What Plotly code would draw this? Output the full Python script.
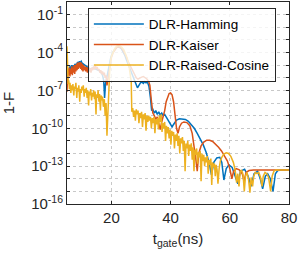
import plotly.graph_objects as go

# ---------------- data (x in ns, y given as log10(1-F)) ----------------
ham_x = [5.0,5.3,5.6,5.9,6.2,6.5,6.8,7.1,7.4,7.7,8.0,8.3,8.6,8.9,9.2,9.5,9.8,10.1,10.4,10.7,11.0,11.5,12.0,12.5,13.0,13.5,14.0,14.5,15.0,15.5,16.0,16.5,17.0,17.4,17.7,18.0,18.4,18.8,19.3,19.8,20.4,21.0,21.6,22.2,22.8,23.4,24.0,24.6,25.2,25.8,26.4,27.0,27.6,28.2,28.8,29.3,29.8,30.3,30.8,31.2,31.7,32.2,32.7,33.2,33.6,34.0,34.5,35.0,35.5,36.0,36.5,37.0,37.5,38.0,38.5,39.0,39.5,40.0,40.5,41.0,41.5,42.0,43.0,44.0,45.0,46.0,47.0,48.0,49.0,50.0,51.0,52.0,53.0,53.8,54.6,55.6,56.6,57.3,58.0,58.8,59.7,60.8,61.9,62.7,63.6,65.0,66.2,67.2,68.2,69.4,70.3,71.1,72.0,72.8,73.7,74.6,75.4,76.2,77.5,80.0]
ham_lg = [-5.9,-5.3,-5.6,-5.1,-5.4,-5.0,-5.3,-5.0,-5.2,-4.9,-5.1,-4.8,-4.75,-4.9,-4.7,-4.8,-4.7,-4.85,-4.9,-5.0,-5.05,-5.1,-5.2,-5.25,-5.3,-5.25,-5.2,-5.3,-5.35,-5.4,-5.45,-5.6,-5.8,-6.2,-7.6,-6.5,-6.0,-5.5,-4.9,-4.4,-4.0,-3.75,-3.6,-3.55,-3.6,-3.72,-3.95,-4.25,-4.65,-5.0,-5.3,-5.7,-6.1,-6.5,-6.8,-6.6,-6.4,-6.35,-6.45,-6.3,-6.4,-6.35,-6.7,-7.6,-8.6,-8.5,-8.8,-8.6,-8.9,-8.7,-8.95,-8.8,-9.0,-8.9,-9.1,-9.3,-9.6,-9.8,-9.9,-9.7,-9.5,-9.35,-9.25,-9.25,-9.3,-9.45,-9.7,-10.0,-10.4,-10.8,-11.3,-11.9,-12.7,-13.7,-12.7,-12.35,-12.3,-12.7,-14.1,-13.2,-12.9,-13.1,-13.8,-14.4,-13.4,-13.25,-13.8,-14.6,-13.6,-13.4,-14.0,-14.8,-13.8,-13.6,-14.0,-15.0,-13.6,-13.35,-13.3,-13.3]

kai_x = [5.0,5.2,5.4,5.6,5.8,6.0,6.2,6.4,6.6,6.8,7.0,7.2,7.4,7.6,7.8,8.0,8.2,8.4,8.6,8.8,9.0,9.2,9.4,9.6,9.8,10.0,10.2,10.4,10.6,10.8,11.0,11.3,11.6,11.9,12.2,12.5,12.8,13.1,13.4,13.7,14.0,14.3,14.6,14.9,15.2,15.5,15.8,16.1,16.4,16.7,17.0,17.3,17.6,17.9,18.2,18.5,18.8,19.1,19.5,20.0,20.6,21.2,21.8,22.4,23.0,23.6,24.2,24.8,25.4,26.0,26.6,27.2,27.8,28.4,29.0,29.6,30.2,30.8,31.4,32.0,32.6,33.0,33.5,34.0,34.5,35.0,35.5,36.0,36.5,37.0,37.5,38.0,38.5,39.0,39.5,40.0,40.5,41.0,41.5,42.0,42.5,43.0,43.7,44.5,45.5,46.5,47.3,47.9,48.5,49.0,49.5,50.3,51.2,52.2,53.2,54.2,55.2,56.2,57.2,58.2,59.2,60.0,60.7,61.3,62.2,63.2,64.2,64.8,65.5,66.5,68.0,72.0,76.0,80.0]
kai_lg = [-7.1,-6.0,-5.3,-5.8,-5.2,-5.9,-5.3,-5.7,-5.1,-5.8,-5.2,-5.6,-5.0,-5.7,-5.0,-5.5,-4.9,-5.4,-4.8,-5.3,-4.8,-5.2,-4.75,-5.3,-4.8,-5.4,-4.9,-5.5,-5.0,-5.4,-5.1,-5.5,-5.15,-5.6,-5.2,-5.5,-5.25,-5.6,-5.2,-5.4,-5.1,-5.35,-5.05,-5.3,-5.15,-5.4,-5.3,-5.6,-5.4,-5.7,-5.5,-5.8,-5.6,-6.0,-5.8,-6.6,-6.2,-5.6,-5.0,-4.4,-4.0,-3.75,-3.6,-3.55,-3.58,-3.7,-3.9,-4.2,-4.6,-4.9,-5.2,-5.5,-5.8,-6.0,-6.1,-6.0,-5.95,-5.9,-6.0,-6.1,-6.3,-6.6,-7.8,-8.8,-9.0,-9.3,-9.1,-9.6,-10.1,-9.5,-9.1,-8.6,-7.9,-7.5,-7.25,-7.2,-7.35,-7.9,-8.9,-10.0,-10.4,-9.9,-9.6,-9.5,-9.55,-9.8,-10.4,-11.3,-12.4,-13.4,-12.0,-11.4,-11.1,-10.95,-10.95,-11.05,-11.25,-11.5,-11.8,-12.15,-12.6,-13.2,-14.0,-13.4,-13.2,-13.3,-13.6,-14.2,-13.5,-13.35,-13.3,-13.3,-13.3,-13.3]

rc_x = [5.0,5.2,5.4,5.6,5.8,6.0,6.3,6.5,6.8,7.0,7.3,7.5,7.8,8.0,8.3,8.5,8.8,9.0,9.3,9.5,9.8,10.0,10.3,10.5,10.8,11.0,11.3,11.5,11.8,12.0,12.3,12.5,12.8,13.0,13.3,13.5,13.8,14.0,14.3,14.5,14.8,15.0,15.3,15.5,15.8,16.0,16.3,16.5,16.8,17.0,17.3,17.6,17.9,18.2,18.5,18.8,19.1,19.5,20.0,20.6,21.2,21.8,22.4,23.0,23.6,24.2,24.8,25.4,25.9,26.3,26.7,26.9,27.2,27.5,27.8,28.1,28.4,28.7,29.0,29.3,29.6,29.9,30.2,30.5,30.8,31.1,31.4,31.7,32.0,32.3,32.6,32.9,33.2,33.5,33.8,34.1,34.4,34.7,35.0,35.3,35.6,35.9,36.2,36.5,36.8,37.1,37.4,37.7,38.0,38.3,38.6,38.9,39.2,39.5,39.8,40.1,40.4,40.7,41.0,41.3,41.6,41.9,42.2,42.5,42.8,43.1,43.4,43.7,44.0,44.3,44.6,44.9,45.2,45.5,45.8,46.1,46.4,46.7,47.0,47.3,47.6,47.9,48.2,48.5,48.8,49.1,49.4,49.7,50.0,50.3,50.6,50.9,51.2,51.5,51.8,52.1,52.4,52.7,53.0,53.3,53.6,53.9,54.2,54.5,54.8,55.1,55.4,55.7,56.0,56.4,56.8,57.3,58.0,58.8,59.6,60.4,61.2,61.8,62.3,62.7,63.1,63.5,64.0,64.5,64.9,65.3,65.8,66.3,66.8,67.2,67.7,68.1,68.6,69.2,69.8,70.4,70.9,71.3,71.9,72.5,73.1,73.8,74.3,74.9,75.5,77.0,80.0]
rc_lg = [-3.5,-4.8,-6.5,-6.2,-6.9,-6.4,-7.2,-6.6,-7.0,-6.5,-7.4,-6.7,-6.9,-6.4,-7.6,-6.8,-7.1,-6.6,-7.9,-6.9,-7.2,-6.7,-7.0,-6.6,-7.5,-6.9,-7.2,-6.8,-7.6,-7.0,-8.2,-7.1,-7.4,-6.9,-7.8,-7.2,-7.5,-7.0,-7.7,-7.1,-8.9,-7.3,-7.6,-7.0,-7.9,-7.3,-8.6,-7.4,-7.8,-7.5,-8.3,-7.7,-9.0,-8.0,-10.6,-8.5,-6.5,-5.0,-4.3,-3.9,-3.65,-3.5,-3.45,-3.5,-3.6,-3.8,-4.1,-4.5,-5.0,-5.6,-6.3,-8.7,-8.4,-9.1,-8.6,-9.4,-8.5,-8.9,-8.6,-9.6,-8.8,-9.2,-8.7,-9.9,-8.9,-9.3,-8.8,-10.2,-9.0,-9.5,-9.0,-9.4,-9.1,-10.0,-9.2,-9.6,-9.1,-10.4,-9.3,-9.7,-9.2,-10.1,-9.0,-9.5,-8.9,-10.3,-9.6,-10.0,-9.5,-11.0,-9.8,-10.4,-9.9,-10.8,-10.1,-11.3,-10.2,-10.6,-10.3,-11.6,-10.5,-11.0,-10.4,-11.4,-10.6,-12.0,-10.8,-11.2,-10.7,-11.8,-11.0,-13.4,-11.2,-11.6,-11.0,-12.2,-11.3,-11.8,-11.2,-12.5,-11.5,-13.4,-11.7,-12.1,-11.6,-12.8,-11.9,-12.3,-11.8,-14.2,-12.0,-12.6,-12.1,-13.0,-12.3,-12.7,-12.2,-13.6,-12.5,-12.9,-12.4,-14.5,-12.7,-13.1,-12.8,-13.8,-12.9,-13.3,-14.4,-13.2,-12.6,-12.3,-12.05,-11.95,-12.0,-12.25,-12.7,-13.3,-14.3,-13.6,-14.6,-13.5,-13.3,-13.7,-15.0,-13.8,-13.5,-14.0,-15.1,-13.9,-14.6,-13.8,-13.5,-13.6,-13.5,-13.9,-14.6,-13.8,-13.5,-13.6,-13.9,-15.0,-13.8,-13.4,-13.3,-13.3,-13.3]

series_names = ["DLR-Hamming", "DLR-Kaiser", "DLR-Raised-Cosine"]
series_colors = ["#0072BD", "#D95319", "#EDB120"]

y_tick_exp = list(range(-16, 0))
y_label_exp = [-16, -13, -10, -7, -4, -1]
x_ticks = [20, 40, 60, 80]

FONT = "Liberation Sans, Arial, sans-serif"
AX = "#262626"

fig = go.Figure()
for name, col, xs, lg in zip(series_names, series_colors,
                             [ham_x, kai_x, rc_x], [ham_lg, kai_lg, rc_lg]):
    fig.add_trace(go.Scatter(x=xs, y=[10 ** v for v in lg], mode="lines", name=name,
                             line=dict(color=col, width=1.5)))

fig.update_layout(
    width=299, height=259,
    margin=dict(l=65, r=10, t=1, b=55),
    paper_bgcolor="white", plot_bgcolor="white",
    font=dict(family=FONT, size=15, color=AX),
    showlegend=True,
    legend=dict(x=0.094, y=0.972, xanchor="left", yanchor="top",
                bgcolor="rgba(255,255,255,0.8)", bordercolor=AX, borderwidth=1,
                font=dict(size=13.5, color="black"), tracegroupgap=0, itemwidth=50),
)
fig.update_xaxes(range=[5, 80], tickvals=x_ticks, ticks="inside", ticklen=3,
                 tickcolor=AX, showline=True, linecolor=AX, linewidth=1, mirror="allticks",
                 showgrid=True, gridcolor="#c8c8c8", griddash="dot", gridwidth=1,
                 zeroline=False, tickfont=dict(size=15),
                 title=dict(text="t<sub>gate</sub>(ns)", font=dict(size=15), standoff=8))
fig.update_yaxes(type="log", range=[-16, 0],
                 tickvals=[10.0 ** e for e in y_tick_exp],
                 ticktext=[("10<sup>%d</sup>" % e) if e in y_label_exp else "" for e in y_tick_exp],
                 ticks="inside", ticklen=3, tickcolor=AX, showline=True, linecolor=AX,
                 linewidth=1, mirror="allticks", showgrid=True, gridcolor="#c8c8c8",
                 griddash="dot", gridwidth=1, zeroline=False, tickfont=dict(size=15),
                 title=dict(text="1-F", font=dict(size=15), standoff=20))

fig.write_html("out.html", config={"displayModeBar": False},
               post_script="document.body.style.margin='0';")
